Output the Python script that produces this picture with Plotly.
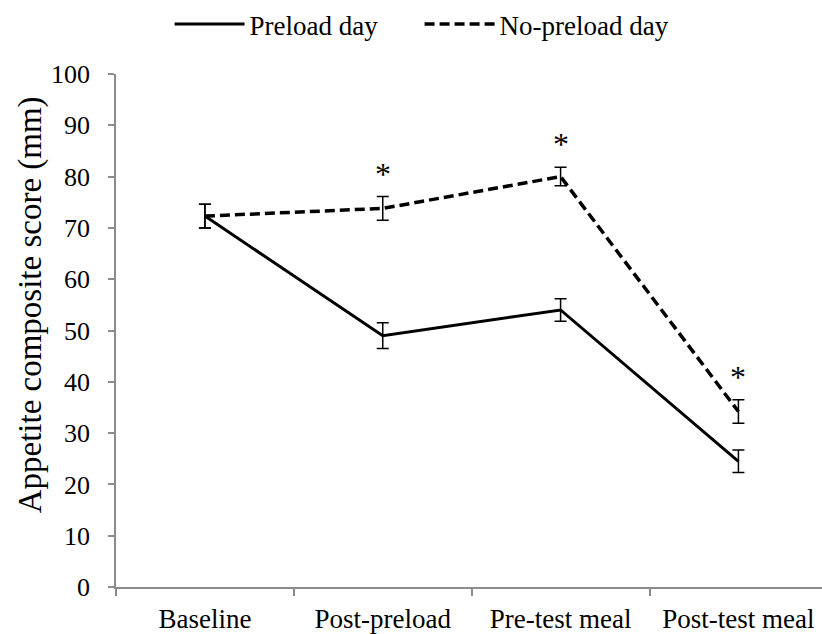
import plotly.graph_objects as go

categories = ["Baseline", "Post-preload", "Pre-test meal", "Post-test meal"]
preload = [72.3, 49.0, 54.0, 24.5]
preload_se = [2.3, 2.5, 2.2, 2.2]
nopreload = [72.3, 73.8, 80.0, 34.2]
nopreload_se = [2.3, 2.3, 1.8, 2.3]
significant = [False, True, True, True]

FONT = "Liberation Serif"
AXIS_GREY = "#8c8c8c"

fig = go.Figure()
fig.add_trace(go.Scatter(
    x=categories, y=preload, name="Preload day", mode="lines",
    line=dict(color="black", width=3),
    error_y=dict(type="data", array=preload_se, color="black", thickness=1.5, width=6),
))
fig.add_trace(go.Scatter(
    x=categories, y=nopreload, name="No-preload day", mode="lines",
    line=dict(color="black", width=3.5, dash="10px,5px"),
    error_y=dict(type="data", array=nopreload_se, color="black", thickness=1.5, width=6),
))

for cat, v, se, sig in zip(categories, nopreload, nopreload_se, significant):
    if sig:
        fig.add_annotation(x=cat, y=v + se, text="*", showarrow=False,
                           yanchor="bottom", yshift=3,
                           font=dict(family=FONT, size=32, color="black"))

fig.add_annotation(xref="paper", yref="paper", x=0, y=0.55, xshift=-106,
                   text="Appetite composite score (mm)", textangle=-90,
                   showarrow=False, font=dict(family=FONT, size=33, color="black"))

fig.update_layout(
    width=822, height=634,
    margin=dict(l=116, r=0, t=74, b=45),
    plot_bgcolor="white", paper_bgcolor="white",
    font=dict(family=FONT, size=24, color="black"),
    showlegend=True,
    legend=dict(orientation="h", x=0.43, xanchor="center", y=1.0, yanchor="top",
                yref="container", font=dict(family=FONT, size=27),
                itemwidth=70, entrywidth=165, bgcolor="rgba(0,0,0,0)"),
)
fig.update_xaxes(
    type="category", range=[-0.5, 3.47], tickson="boundaries",
    showline=True, linecolor=AXIS_GREY, linewidth=1.5,
    ticks="outside", ticklen=7, tickcolor=AXIS_GREY, tickwidth=1.5,
    showgrid=False, zeroline=False, ticklabelstandoff=7,
    tickfont=dict(family=FONT, size=27, color="black"),
)
fig.update_yaxes(
    range=[0, 100], dtick=10, tick0=0,
    showline=True, linecolor=AXIS_GREY, linewidth=1.5,
    ticks="outside", ticklen=6, tickcolor=AXIS_GREY, tickwidth=1.5,
    showgrid=False, zeroline=False, ticklabelstandoff=13,
    tickfont=dict(family=FONT, size=26, color="black"),
)

fig.write_html("out.html")
